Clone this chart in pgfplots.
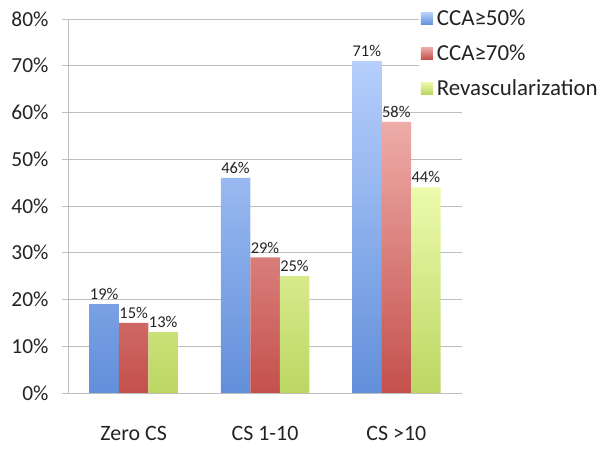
\documentclass[border=0pt]{standalone}
\usepackage{pgfplots}
\pgfplotsset{compat=1.18}
\usepackage{fontspec}
\setmainfont{Carlito}
\definecolor{bluetop}{RGB}{182,207,252}
\definecolor{bluebot}{RGB}{98,143,218}
\definecolor{redtop}{RGB}{238,172,168}
\definecolor{redbot}{RGB}{196,80,76}
\definecolor{greentop}{RGB}{236,250,172}
\definecolor{greenbot}{RGB}{188,214,98}
\definecolor{gridgray}{RGB}{190,190,190}
\definecolor{txt}{RGB}{35,35,35}
\begin{document}
\begin{tikzpicture}[x=1bp,y=1bp]
\path[use as bounding box] (0,0) rectangle (601,449);
\begin{axis}[
  at={(68bp,56bp)}, anchor=south west,
  scale only axis, width=394bp, height=374bp,
  ymin=0, ymax=80, xmin=-0.5, xmax=2.5,
  axis lines*=left,
  axis line style={gridgray, line width=0.8bp},
  ybar=0pt, bar width=29.5bp,
  ytick={0,10,...,80},
  yticklabel={\pgfmathprintnumber{\tick}\%},
  /pgf/number format/assume math mode=true,
  xtick={0,1,2},
  xticklabels={Zero CS, CS 1-10, CS >10},
  tick align=outside,
  ytick style={gridgray, line width=0.8bp},
  major tick length=6bp,
  xtick style={draw=none},
  extra x ticks={-0.5,0.5,1.5,2.5},
  extra x tick labels={},
  extra x tick style={major tick length=8bp, tick style={gridgray, line width=0.8bp}, grid=none},
  ymajorgrids, grid style={gridgray, line width=0.8bp},
  yticklabel style={font=\fontsize{21.5}{24}\selectfont, text=txt, xshift=-10bp},
  xticklabel style={font=\fontsize{22}{24}\selectfont, text=txt, yshift=-24bp},
  nodes near coords={\pgfmathprintnumber{\pgfplotspointmeta}\%},
  nodes near coords style={font=\fontsize{16.5}{18}\selectfont, text=txt, inner sep=4bp},
  legend style={at={(axis description cs:0.89,1.035)}, anchor=north west, draw=none, fill=white,
    font=\fontsize{23}{25}\selectfont, text=txt, row sep=13.5bp, inner sep=2bp},
  legend cell align=left,
  legend image code/.code={\fill[#1] (0bp,-6bp) rectangle (12bp,6bp); \path (0bp,0bp) -- (14bp,0bp);},
  clip=false,
]
\addplot[draw=none, top color=bluetop, bottom color=bluebot] coordinates {(0,19) (1,46) (2,71)};
\addplot[draw=none, top color=redtop, bottom color=redbot] coordinates {(0,15) (1,29) (2,58)};
\addplot[draw=none, top color=greentop, bottom color=greenbot] coordinates {(0,13) (1,25) (2,44)};
\legend{CCA≥50\%, CCA≥70\%, Revascularization}
\end{axis}
\end{tikzpicture}
\end{document}
